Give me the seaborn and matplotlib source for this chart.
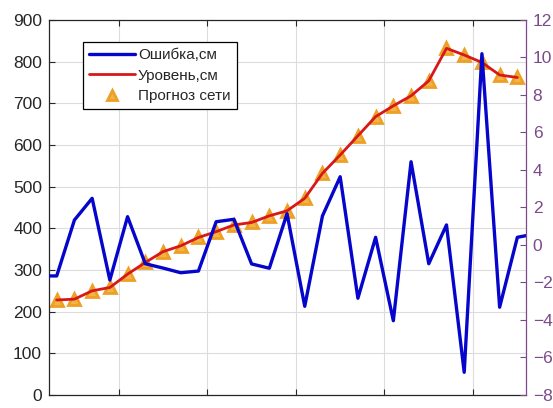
import matplotlib
matplotlib.use("Agg")
import matplotlib.pyplot as plt
import seaborn as sns
import pandas as pd
import numpy as np

# Water level, network forecast and error per time step
step_level = list(range(1, 28))
level_cm = [228, 230, 250, 258, 290, 318, 344, 358, 378, 392, 408, 414, 430, 442,
            472, 532, 576, 622, 668, 694, 718, 754, 832, 816, 798, 768, 762]
forecast_cm = [228, 230, 250, 258, 290, 318, 344, 358, 378, 392, 408, 414, 430, 442,
               472, 532, 576, 622, 668, 694, 718, 754, 832, 816, 798, 768, 762]
step_error = list(range(0, 29))
error_cm = [-1.65, -1.65, 1.33, 2.49, -1.87, 1.51, -1.0, -1.23, -1.48, -1.39,
            1.24, 1.37, -1.01, -1.24, 1.67, -3.27, 1.55, 3.64, -2.84, 0.41,
            -4.04, 4.44, -1.0, 1.07, -6.79, 10.2, -3.32, 0.41, 0.59]

labels = ["Ошибка,см", "Уровень,см", "Прогноз сети"]
left_ticks = list(range(0, 901, 100))
right_ticks = list(range(-8, 13, 2))
x_ticks = [4.5, 9.5, 14.5, 19.5, 24.5]

df_level = pd.DataFrame({"step": step_level, "level": level_cm, "forecast": forecast_cm})
df_error = pd.DataFrame({"step": step_error, "error": error_cm})

sns.set_theme(style="white")
plt.rcParams["font.family"] = ["Liberation Sans", "DejaVu Sans"]

dark = "#262626"
purple = "#7b4a8a"
blue = "#0505cc"
red = "#d81818"
gold = "#eca025"

fig = plt.figure(figsize=(5.53, 4.08), dpi=100)
ax = fig.add_axes([0.0886, 0.0319, 0.862, 0.9191])

# network forecast markers under the level line
sns.lineplot(data=df_level, x="step", y="forecast", ax=ax, marker="^",
             linestyle="none", markersize=8.5, markerfacecolor="#f3b347",
             markeredgecolor=gold, markeredgewidth=2.0, color=gold,
             label=labels[2], legend=False)
sns.lineplot(data=df_level, x="step", y="level", ax=ax, color=red,
             linewidth=2.0, label=labels[1], legend=False)

ax2 = ax.twinx()
sns.lineplot(data=df_error, x="step", y="error", ax=ax2, color=blue,
             linewidth=2.4, label=labels[0], legend=False)

ax.set_xlim(0.565, 27.47)
ax.set_ylim(0, 900)
ax2.set_ylim(-8, 12)
ax.set_xticks(x_ticks)
ax.set_xticklabels([""] * len(x_ticks))
ax.set_yticks(left_ticks)
ax2.set_yticks(right_ticks)
ax.set_xlabel("")
ax.set_ylabel("")
ax2.set_ylabel("")

ax.grid(True, color="#dcdcdc", linewidth=0.8)
ax.set_axisbelow(True)

ax.tick_params(axis="both", direction="in", length=4, width=0.8, colors=dark,
               labelsize=12.5, pad=5, top=True, bottom=True, right=False)
ax.tick_params(axis="y", labelcolor=dark)
ax2.tick_params(axis="y", direction="in", length=4, width=0.8, colors=purple,
                labelsize=12.5, pad=5)
for name in ["left", "bottom", "top"]:
    ax.spines[name].set_color(dark)
    ax.spines[name].set_linewidth(0.9)
    ax2.spines[name].set_visible(False)
ax.spines["right"].set_visible(False)
ax2.spines["right"].set_color(purple)
ax2.spines["right"].set_linewidth(0.9)

h1, _ = ax.get_legend_handles_labels()
h2, _ = ax2.get_legend_handles_labels()
handles = [h2[0], h1[1], h1[0]]
leg = ax2.legend(handles, labels, loc="upper left", bbox_to_anchor=(0.0713, 0.941),
                 borderaxespad=0, fontsize=11, frameon=True, fancybox=False,
                 edgecolor="black", framealpha=1, handlelength=3.0,
                 handletextpad=0.2, labelspacing=0.42, borderpad=0.4,
                 markerscale=0.8)
leg.get_frame().set_linewidth(0.9)

fig.savefig("out.png", dpi=100, facecolor="white")
